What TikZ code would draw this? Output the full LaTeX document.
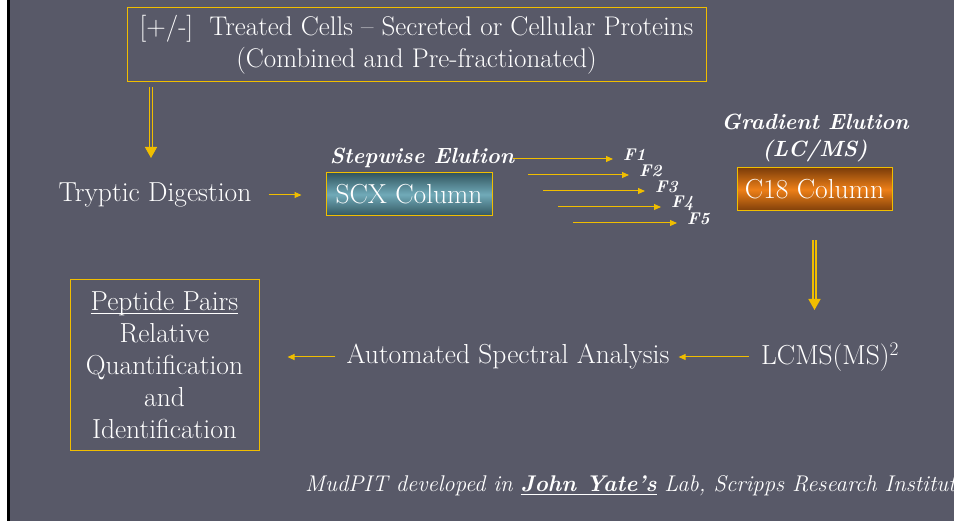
\documentclass[tikz,border=0pt]{standalone}
\usepackage{amsmath,amssymb}
\usepackage{tikz}
\usetikzlibrary{arrows.meta}
\definecolor{slate}{RGB}{88,89,104}
\definecolor{gold}{RGB}{240,190,0}
\definecolor{tealdk}{RGB}{50,85,95}
\definecolor{teallt}{RGB}{112,170,184}
\definecolor{rustdk}{RGB}{125,62,10}
\definecolor{rustlt}{RGB}{238,128,24}
\newcommand{\uln}[1]{\leavevmode\setbox0\hbox{#1}\rlap{\rule[-3pt]{\wd0}{1.2pt}}\box0\relax}

\begin{document}
\begin{tikzpicture}[x=1pt,y=-1pt,
    txt/.style={text=white,font=\fontsize{27.5}{32}\selectfont,align=center,inner sep=0pt},
    elu/.style={text=white,font=\fontsize{22}{27}\selectfont\bfseries\itshape,align=center,inner sep=0pt},
    frac/.style={text=white,font=\fontsize{17}{18}\selectfont\bfseries\itshape,inner sep=0pt,anchor=west},
    goldbox/.style={draw=gold,line width=1pt},
    arr/.style={draw=gold,line width=1pt,-{Triangle[length=7pt,width=6pt]}},
    dbl/.style={draw=gold,double=slate,double distance=1.6pt,line width=1.4pt,
                -{Triangle[length=11pt,width=12pt,fill=gold]}}]
        \useasboundingbox (0,0) rectangle (954,521);
        \fill[slate] (0,0) rectangle (954,521);
        \fill[white] (0,0) rectangle (7,521);
        \fill[black] (7,0) rectangle (9.5,521);
        % top: sample box
        \node[goldbox,txt,font=\fontsize{27}{32}\selectfont,minimum width=579pt,minimum height=74pt] (cells) at (416.5,45)
            {[+/-]\ \ Treated Cells -- Secreted or Cellular Proteins\\(Combined and Pre-fractionated)};
        \node[txt] (digest) at (155,195) {Tryptic Digestion};
        \coordinate (dtip) at (151,158);
        \draw[dbl] (cells.south -| dtip) ++(0,5) -- (dtip);
        % first dimension
        \node[elu] (step) at (422,158) {Stepwise Elution};
        \node[goldbox,txt,minimum width=166pt,minimum height=43pt,
              top color=tealdk,bottom color=tealdk,middle color=teallt] (scx) at (409,194.5) {SCX Column};
        \draw[arr,shorten <=17pt,shorten >=24pt] (digest.east) -- (digest.east -| scx.west);
        \foreach \i in {1,...,5} {
            \node[frac] (f\i) at ({623+16*(\i-1)},{155+16*(\i-1)}) {F\i};
            \coordinate (s\i) at ({513+15*(\i-1)},{159+16*(\i-1)});
            \draw[arr,shorten >=10pt] (s\i) -- (s\i -| f\i.west);
        }
        % second dimension
        \node[elu] (grad) at (815,138) {Gradient Elution\\(LC/MS)};
        \node[goldbox,txt,minimum width=155pt,minimum height=43pt,
              top color=rustdk,bottom color=rustdk,middle color=rustlt] (c18) at (814.5,189.5) {C18 Column};
        \node[txt] (lcms) at (830,357) {LCMS(MS)\textsuperscript{2}};
        \draw[dbl,shorten <=29pt] (c18.south) -- (c18.south |- 0,310);
        % analysis
        \node[txt] (spec) at (508,357) {Automated Spectral Analysis};
        \draw[arr,shorten <=12pt,shorten >=9pt] (lcms.west |- spec.east) -- (spec.east);
        \node[goldbox,txt,minimum width=189pt,minimum height=171pt] (pairs) at (164.5,365.5)
            {\uln{Peptide Pairs}\\Relative\\Quantification\\and\\Identification};
        \draw[arr,shorten <=11pt,shorten >=28pt] (spec.west) -- (spec.west -| pairs.east);
        % credit line
        \node[anchor=west,text=white,inner sep=0pt,font=\fontsize{22.7}{26}\selectfont\itshape] (credit) at (305,486)
            {MudPIT developed in \uln{\bfseries John Yate's} Lab, Scripps Research Institut};
\end{tikzpicture}
\end{document}
